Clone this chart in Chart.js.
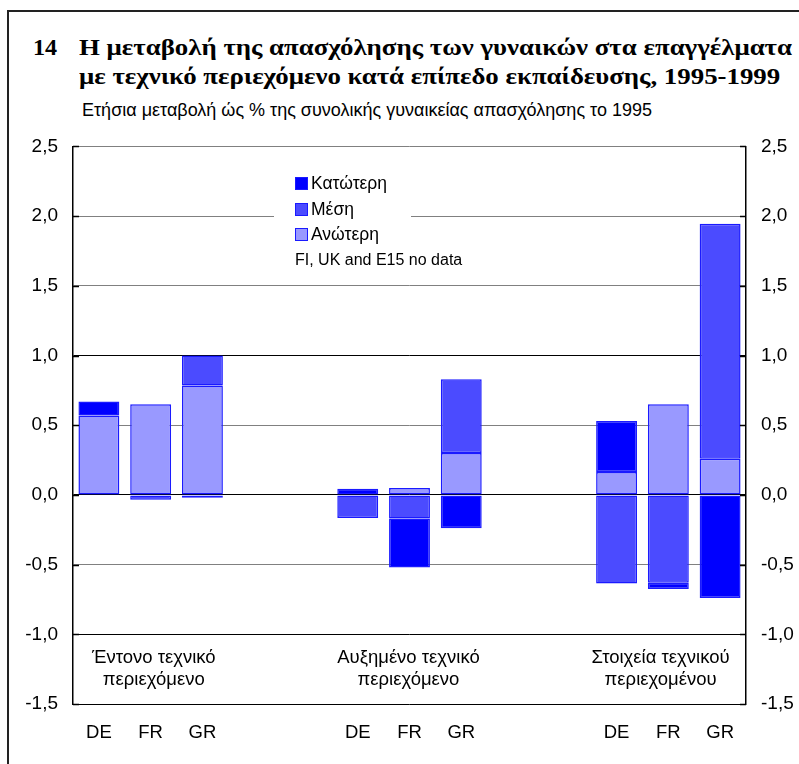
<!DOCTYPE html>
<html>
<head>
<meta charset="utf-8">
<script src="https://cdn.jsdelivr.net/npm/chart.js@4"></script>
<style>
  body { margin: 0; background: #fff; }
  #wrap { position: relative; width: 799px; height: 764px; overflow: hidden; font-family: "Liberation Sans", Arial, sans-serif; }
  #frame { position: absolute; left: 7px; top: 10px; width: 900px; height: 900px; border: 2px solid #222; }
  .title { position: absolute; font-family: "Liberation Serif", "Times New Roman", serif; font-weight: bold; font-size: 24px; white-space: nowrap; color: #000; line-height: 24px; transform-origin: 0 0; }
  #sub { position: absolute; left: 82px; top: 99px; font-size: 18px; white-space: nowrap; line-height: 22px; }
  #chart { position: absolute; left: 0; top: 120px; }
  #legend { position: absolute; left: 274px; top: 170px; width: 137px; height: 80px; background: #fff; }
  .row { position: absolute; left: 21px; font-size: 17.5px; white-space: nowrap; line-height: 20px; }
  .sw { display: inline-block; width: 11px; height: 11px; border: 1px solid #1a1aff; margin-right: 3px; vertical-align: -1px; }
  #nodata { position: absolute; left: 295px; top: 251px; font-size: 16px; white-space: nowrap; }
</style>
</head>
<body>
<div id="wrap">
  <div id="frame"></div>
  <div class="title" id="t0" style="left:33px; top:35px;">14</div>
  <div class="title" id="t1" style="left:79px; top:35px;">Η μεταβολή της απασχόλησης των γυναικών στα επαγγέλματα</div>
  <div class="title" id="t2" style="left:79px; top:64px;">με τεχνικό περιεχόμενο κατά επίπεδο εκπαίδευσης, 1995-1999</div>
  <div id="sub">Ετήσια μεταβολή ώς % της συνολικής γυναικείας απασχόλησης το 1995</div>
  <canvas id="chart" width="799" height="644"></canvas>
  <div id="legend"></div>
  <div id="nodata">FI, UK and E15 no data</div>
</div>
<script>
// countries, with two empty slots between the groups
const labels = ["DE", "FR", "GR", "", "", "DE", "FR", "GR", "", "", "DE", "FR", "GR"];
const groupNames = [
    ["Έντονο τεχνικό", "περιεχόμενο"],
    ["Αυξημένο τεχνικό", "περιεχόμενο"],
    ["Στοιχεία τεχνικού", "περιεχομένου"]
];
const groupCentre = [1.06, 5.98, 10.85]; // roughly the FR slot of each group

// Ετήσια μεταβολή (%), by level of education
const anoteri   = [0.57, 0.65, 0.785, null, null, 0,     0.05,  0.30,  null, null, 0.165, 0.65,  0.26];
const mesi      = [0,   -0.035, 0.215, null, null, -0.165, -0.17, 0.53,  null, null, -0.635, -0.63, 1.685];
const katoteri  = [0.10, 0,   -0.02,  null, null, 0.045, -0.35, -0.24, null, null, 0.365, -0.045, -0.74];

const yTicksMin = -1.5;
const yTicksMax = 2.5;

const colours = { katoteri: "#0000ff", mesi: "#4b4bff", anoteri: "#9999ff" };

// the original title face is wider than Times: stretch to its width
const t1 = document.getElementById("t1");
const stretch = 713 / t1.getBoundingClientRect().width;
document.querySelectorAll(".title").forEach(el => { el.style.transform = `scaleX(${stretch})`; });
// keep the "14" inside its own box
document.getElementById("t0").style.transform = `scaleX(${Math.min(stretch, 27 / document.getElementById("t0").getBoundingClientRect().width)})`;

// Legend (HTML, top to bottom)
const legendItems = [["Κατώτερη", colours.katoteri], ["Μέση", colours.mesi], ["Ανώτερη", colours.anoteri]];
const legendDiv = document.getElementById("legend");
legendItems.forEach((item, i) => {
    const row = document.createElement("div");
    row.className = "row";
    row.style.top = (3 + i * 25.5) + "px";
    row.innerHTML = `<span class="sw" style="background:${item[1]}"></span>${item[0]}`;
    legendDiv.appendChild(row);
});

function fmt(v) {
    return v.toFixed(1).replace(".", ",");
}

// group titles inside the plot + small inward tick marks
const extras = {
    id: "extras",
    afterDraw(chart) {
        const ctx = chart.ctx;
        const x = chart.scales.x;
        const y = chart.scales.y;
        const area = chart.chartArea;

        ctx.save();
        ctx.strokeStyle = "#000";
        ctx.lineWidth = 1.5;
        y.ticks.forEach(t => {
            const py = Math.round(y.getPixelForValue(t.value)) + 0.5;
            ctx.beginPath();
            ctx.moveTo(area.left, py);
            ctx.lineTo(area.left + 6, py);
            ctx.moveTo(area.right - 6, py);
            ctx.lineTo(area.right, py);
            ctx.stroke();
        });

        ctx.fillStyle = "#000";
        ctx.font = "18.5px 'Liberation Sans', Arial, sans-serif";
        ctx.textAlign = "center";
        ctx.textBaseline = "middle";
        const base = y.getPixelForValue(-1.0);
        groupNames.forEach((lines, i) => {
            const px = x.getPixelForValue(groupCentre[i]);
            lines.forEach((s, j) => ctx.fillText(s, px, base + 24 + j * 22));
        });
        ctx.restore();
    }
};

function gridColour(c) {
    const v = c.tick ? Math.round(c.tick.value * 10) / 10 : 0;
    if (v === 0 || v === 1 || v === -1 || v === -1.5) return "#000";
    return "#808080";
}

const tickFont = { family: "'Liberation Sans', Arial, sans-serif", size: 19 };

const ctx = document.getElementById("chart").getContext("2d");
new Chart(ctx, {
    type: "bar",
    data: {
        labels: labels,
        datasets: [
            { label: "Ανώτερη", data: anoteri, backgroundColor: colours.anoteri },
            { label: "Μέση", data: mesi, backgroundColor: colours.mesi },
            { label: "Κατώτερη", data: katoteri, backgroundColor: colours.katoteri }
        ].map(d => Object.assign(d, {
            borderColor: "#1a1aff",
            borderWidth: 1.5,
            borderSkipped: false,
            categoryPercentage: 1,
            barPercentage: 0.79
        }))
    },
    options: {
        responsive: false,
        animation: false,
        devicePixelRatio: 1,
        layout: { padding: { top: 21, left: 0, right: 0, bottom: 0 } },
        plugins: { legend: { display: false }, tooltip: { enabled: false } },
        scales: {
            x: {
                stacked: true,
                grid: { display: false, drawTicks: false },
                border: { display: false },
                ticks: {
                    color: "#000",
                    padding: 18,
                    maxRotation: 0,
                    autoSkip: false,
                    font: { family: "'Liberation Sans', Arial, sans-serif", size: 18.5 }
                },
                afterFit: s => { s.height = 60; }
            },
            y: {
                stacked: true,
                position: "left",
                min: yTicksMin,
                max: yTicksMax,
                grid: { color: gridColour, lineWidth: 1, drawTicks: false },
                border: { display: true, color: "#000", width: 1.5 },
                ticks: {
                    stepSize: 0.5,
                    padding: 15,
                    color: "#000",
                    callback: v => fmt(v),
                    font: tickFont
                },
                afterFit: s => { s.width = 73; }
            },
            y2: {
                position: "right",
                min: yTicksMin,
                max: yTicksMax,
                grid: { drawOnChartArea: false, drawTicks: false },
                border: { display: true, color: "#000", width: 1.5 },
                ticks: {
                    stepSize: 0.5,
                    padding: 15,
                    color: "#000",
                    callback: v => fmt(v),
                    font: tickFont
                },
                afterFit: s => { s.width = 53; }
            }
        }
    },
    plugins: [extras]
});
</script>
</body>
</html>
